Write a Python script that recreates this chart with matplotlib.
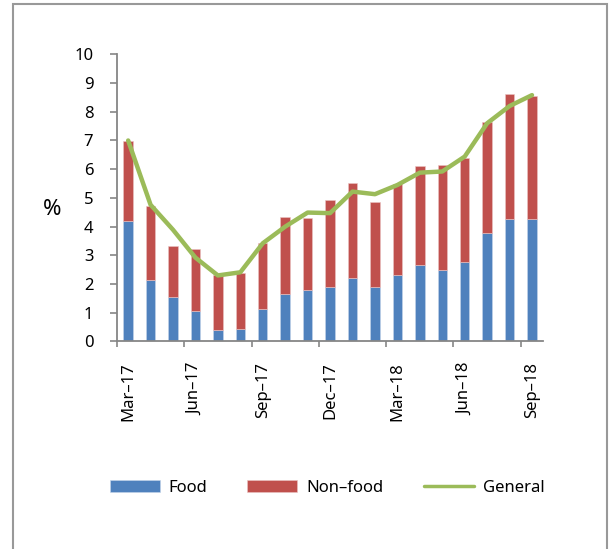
import matplotlib.pyplot as plt
from matplotlib.patches import Rectangle
import numpy as np

plt.rcParams['font.family'] = ['Noto Sans', 'DejaVu Sans']

months = ['Mar–17', 'Apr–17', 'May–17', 'Jun–17', 'Jul–17', 'Aug–17', 'Sep–17',
          'Oct–17', 'Nov–17', 'Dec–17', 'Jan–18', 'Feb–18', 'Mar–18', 'Apr–18',
          'May–18', 'Jun–18', 'Jul–18', 'Aug–18', 'Sep–18']
food = [4.18, 2.15, 1.54, 1.06, 0.39, 0.43, 1.14, 1.65, 1.80, 1.90,
        2.20, 1.89, 2.31, 2.65, 2.48, 2.77, 3.78, 4.26, 4.26]
nonfood = [2.80, 2.58, 1.79, 2.15, 1.93, 1.97, 2.28, 2.67, 2.49, 3.03,
           3.32, 2.98, 3.17, 3.46, 3.65, 3.61, 3.88, 4.36, 4.29]
general = [7.00, 4.76, 3.89, 2.92, 2.30, 2.41, 3.42, 4.00, 4.49, 4.47,
           5.22, 5.13, 5.45, 5.88, 5.92, 6.44, 7.60, 8.20, 8.58]

BLUE = '#4F81BD'
RED = '#C0504D'
GREEN = '#9BBB59'
GREY = '#868686'

fig = plt.figure(figsize=(6.09, 5.49), dpi=100)
ax = fig.add_axes([0.192, 0.378, 0.700, 0.523])

x = np.arange(len(months))
b1 = ax.bar(x, food, width=0.42, color=BLUE, edgecolor='#c5d5ea', linewidth=0.4, label='Food')
b2 = ax.bar(x, nonfood, width=0.42, bottom=food, color=RED, edgecolor='#ebc5c4',
            linewidth=0.4, label='Non–food')
l1, = ax.plot(x, general, color=GREEN, lw=3.2, solid_capstyle='round', label='General', zorder=3)

ax.set_xlim(-0.5, len(months) - 0.5)
ax.set_ylim(0, 10)
ax.set_yticks(range(0, 11))

# ticks between categories, labels on every third month
ax.set_xticks(np.arange(-0.5, len(months), 3))
ax.set_xticklabels([])
ax.set_xticks(x[::3], minor=True)
ax.set_xticklabels(months[::3], minor=True, rotation=90, fontsize=12)
ax.tick_params(axis='x', which='major', length=4, width=1.2, color=GREY, direction='out')
ax.tick_params(axis='x', which='minor', length=0, pad=15)
ax.tick_params(axis='y', length=5, width=1.2, color=GREY, pad=12, labelsize=12)

for s in ['top', 'right']:
    ax.spines[s].set_visible(False)
for s in ['left', 'bottom']:
    ax.spines[s].set_color(GREY)
    ax.spines[s].set_linewidth(1.3)

ax.text(-0.153, 0.458, '%', transform=ax.transAxes, fontsize=16,
        ha='center', va='center')

leg = fig.legend([b1, b2, l1], ['Food', 'Non–food', 'General'], loc='center',
                 bbox_to_anchor=(0.537, 0.111), ncol=3, frameon=False,
                 fontsize=12, handlelength=3.0, handleheight=0.75, handletextpad=0.55,
                 columnspacing=2.4)
leg.legend_handles[2].set_linewidth(2.5)

fig.add_artist(Rectangle((0.021, -0.1), 0.976, 1.093, transform=fig.transFigure,
                         fill=False, edgecolor='#999999', linewidth=1.5))

fig.savefig('out.png', dpi=100)
